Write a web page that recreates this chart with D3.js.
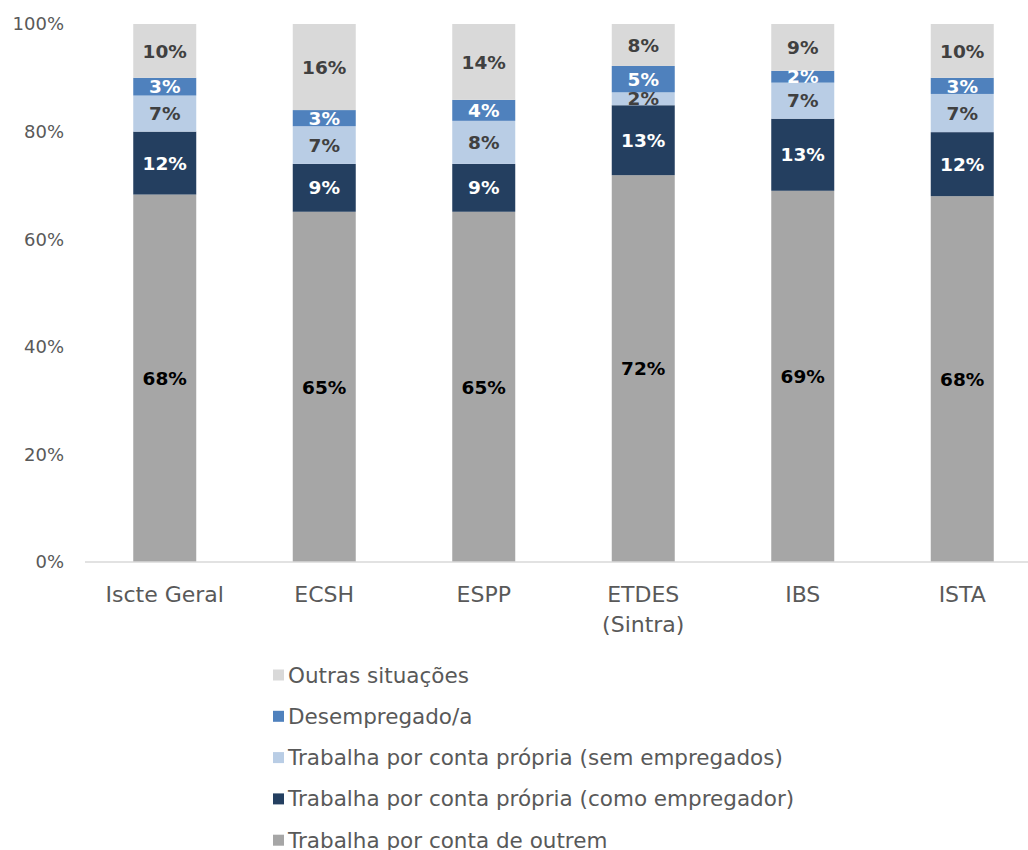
<!DOCTYPE html>
<meta charset="utf-8">
<head>
  <style>
    body { margin: 0; background: #fff; }
    svg text { font-family: "DejaVu Sans", sans-serif; }
  </style>
</head>
<body>
  <script src="https://d3js.org/d3.v7.min.js"></script>
  <script>
    // categories (multi-line names split by \n)
    var categories = ["Iscte Geral", "ECSH", "ESPP", "ETDES\n(Sintra)", "IBS", "ISTA"];

    // series, bottom to top
    var seriesNames = [
      "Trabalha por conta de outrem",
      "Trabalha por conta própria (como empregador)",
      "Trabalha por conta própria (sem empregados)",
      "Desempregado/a",
      "Outras situações"
    ];
    var outrem      = [68.3, 65.1, 65.1, 71.9, 69.0, 68.0];
    var empregador  = [11.7,  8.9,  8.9, 13.0, 13.4, 11.9];
    var semEmpreg   = [ 6.7,  7.0,  8.0,  2.4,  6.7,  7.1];
    var desempreg   = [ 3.3,  3.0,  3.9,  4.9,  2.2,  3.0];
    var outras      = [10.0, 16.0, 14.1,  7.8,  8.7, 10.0];

    var yTicks = [0, 20, 40, 60, 80, 100];

    var colors = ["#a6a6a6", "#243f60", "#b9cde5", "#4f81bd", "#d9d9d9"];
    var labelColors = ["#000000", "#ffffff", "#404040", "#ffffff", "#404040"];

    var seriesValues = [outrem, empregador, semEmpreg, desempreg, outras];

    var table = categories.map(function (c, i) {
      var row = { cat: c };
      seriesNames.forEach(function (s, k) { row[s] = seriesValues[k][i]; });
      return row;
    });

    var W = 1028, H = 850;
    var svg = d3.select("body").append("svg")
      .attr("width", W)
      .attr("height", H);

    var x = d3.scaleBand()
      .domain(categories)
      .range([85, 1042])
      .paddingInner(0.605)
      .paddingOuter(0.3025);

    var y = d3.scaleLinear()
      .domain([0, 100])
      .range([562, 24]);

    var stack = d3.stack().keys(seriesNames);
    var layers = stack(table);

    // y tick labels
    svg.append("g")
      .selectAll("text")
      .data(yTicks)
      .enter().append("text")
      .attr("x", 64)
      .attr("y", function (d) { return y(d); })
      .attr("dy", "0.35em")
      .attr("text-anchor", "end")
      .attr("fill", "#595959")
      .style("font-size", "18px")
      .text(function (d) { return d + "%"; });

    // bars
    var layer = svg.append("g")
      .selectAll("g")
      .data(layers)
      .enter().append("g")
      .attr("fill", function (d, i) { return colors[i]; });

    layer.selectAll("rect")
      .data(function (d) { return d; })
      .enter().append("rect")
      .attr("x", function (d) { return x(d.data.cat); })
      .attr("width", x.bandwidth())
      .attr("y", function (d) { return y(d[1]); })
      .attr("height", function (d) { return y(d[0]) - y(d[1]); });

    // x axis line
    svg.append("line")
      .attr("x1", 85).attr("x2", 1042)
      .attr("y1", y(0)).attr("y2", y(0))
      .attr("stroke", "#d9d9d9")
      .attr("stroke-width", 1.5);

    // value labels
    layers.forEach(function (ly, k) {
      svg.append("g")
        .selectAll("text")
        .data(ly)
        .enter().append("text")
        .attr("x", function (d) { return x(d.data.cat) + x.bandwidth() / 2; })
        .attr("y", function (d) { return (y(d[0]) + y(d[1])) / 2; })
        .attr("dy", "0.36em")
        .attr("text-anchor", "middle")
        .attr("fill", labelColors[k])
        .style("font-size", "18.5px")
        .style("font-weight", "bold")
        .text(function (d) { return Math.round(d[1] - d[0]) + "%"; });
    });

    // category labels
    var catLabels = svg.append("g")
      .selectAll("text")
      .data(categories)
      .enter().append("text")
      .attr("x", function (d) { return x(d) + x.bandwidth() / 2; })
      .attr("y", 594)
      .attr("text-anchor", "middle")
      .attr("fill", "#595959")
      .style("font-size", "22px");

    catLabels.each(function (d) {
      var t = d3.select(this);
      d.split("\n").forEach(function (line, i) {
        t.append("tspan")
          .attr("x", x(d) + x.bandwidth() / 2)
          .attr("dy", i === 0 ? "0.35em" : "1.36em")
          .text(line);
      });
    });

    // legend (top item = top of stack)
    var legendOrder = seriesNames.slice().reverse();
    var legend = svg.append("g")
      .selectAll("g")
      .data(legendOrder)
      .enter().append("g")
      .attr("transform", function (d, i) { return "translate(273," + (675 + i * 41.3) + ")"; });

    legend.append("rect")
      .attr("x", 0)
      .attr("y", -5.5)
      .attr("width", 11)
      .attr("height", 11)
      .attr("fill", function (d) { return colors[seriesNames.indexOf(d)]; });

    legend.append("text")
      .attr("x", 15)
      .attr("y", 0)
      .attr("dy", "0.35em")
      .attr("fill", "#595959")
      .style("font-size", "21.5px")
      .text(function (d) { return d; });
  </script>
</body>
